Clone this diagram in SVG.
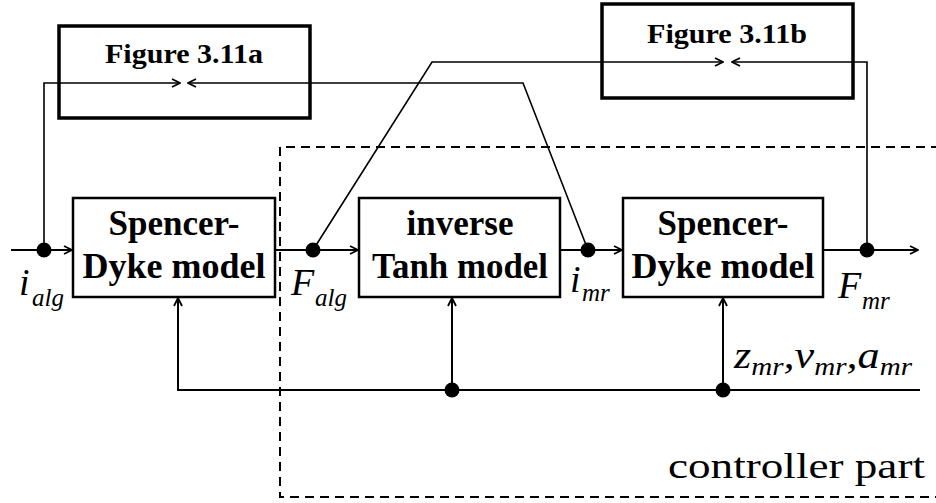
<svg xmlns="http://www.w3.org/2000/svg" width="936" height="503" viewBox="0 0 936 503">
<defs>
<marker id="arr" viewBox="0 0 10 10" refX="9" refY="5" markerWidth="10" markerHeight="10" markerUnits="userSpaceOnUse" orient="auto">
<path d="M1,1 L9,5 L1,9" fill="none" stroke="#000" stroke-width="1.8"/>
</marker>
</defs>
<style>
text{font-family:'Liberation Serif','Times New Roman',serif}
.blk{fill:#fff;stroke:#000;stroke-width:2.5}
.fig{fill:none;stroke:#000;stroke-width:3.5}
.bt{font-weight:bold;font-size:35px;text-anchor:middle}
.ft{font-weight:bold;font-size:28px;text-anchor:middle}
.ln{fill:none;stroke:#000;stroke-width:2}
.lnt{fill:none;stroke:#000;stroke-width:1.6}
.lab{font-style:italic;font-size:38px}
.sub{font-style:italic;font-size:25px}
.dot{fill:#000}
</style>
<rect width="936" height="503" fill="#fff"/>
<g id="controller-part">
<path d="M940,147 H280 V497 H940" fill="none" stroke="#000" stroke-width="2" stroke-dasharray="9,6"/>
<text x="925" y="478" font-size="36" text-anchor="end" textLength="257" lengthAdjust="spacingAndGlyphs">controller part</text>
</g>
<g id="connectors">
<path class="ln" d="M11,250 H72" marker-end="url(#arr)"/>
<path class="ln" d="M275,250 H358" marker-end="url(#arr)"/>
<path class="ln" d="M560,250 H622" marker-end="url(#arr)"/>
<path class="ln" d="M823,250 H918" marker-end="url(#arr)"/>
<path class="lnt" d="M44,250 V83 H180" marker-end="url(#arr)"/>
<path class="lnt" d="M588,250 L523,83 H188" marker-end="url(#arr)"/>
<path class="lnt" d="M313,250 L432,62 H723" marker-end="url(#arr)"/>
<path class="lnt" d="M867,250 V62 H732" marker-end="url(#arr)"/>
<path class="ln" d="M920,390 H178 V298" marker-end="url(#arr)"/>
<path class="ln" d="M452,390 V298" marker-end="url(#arr)"/>
<path class="ln" d="M723,390 V298" marker-end="url(#arr)"/>
<circle class="dot" cx="44" cy="250" r="7.5"/>
<circle class="dot" cx="313" cy="250" r="7.5"/>
<circle class="dot" cx="588" cy="250" r="7.5"/>
<circle class="dot" cx="867" cy="250" r="7.5"/>
<circle class="dot" cx="452" cy="390" r="7.5"/>
<circle class="dot" cx="723" cy="390" r="7.5"/>
</g>
<g id="fig311a">
<rect class="fig" x="59" y="26" width="251" height="92"/>
<text class="ft" x="184" y="63" textLength="158" lengthAdjust="spacingAndGlyphs">Figure 3.11a</text>
</g>
<g id="fig311b">
<rect class="fig" x="602" y="4" width="251" height="94"/>
<text class="ft" x="727" y="43" textLength="160" lengthAdjust="spacingAndGlyphs">Figure 3.11b</text>
</g>
<g id="sd1">
<rect class="blk" x="73" y="198" width="202" height="99"/>
<text class="bt" x="174" y="235">Spencer-</text>
<text class="bt" x="174" y="278" textLength="183" lengthAdjust="spacingAndGlyphs">Dyke model</text>
</g>
<g id="tanh">
<rect class="blk" x="359" y="198" width="201" height="99"/>
<text class="bt" x="460" y="235">inverse</text>
<text class="bt" x="460" y="278" textLength="176" lengthAdjust="spacingAndGlyphs">Tanh model</text>
</g>
<g id="sd2">
<rect class="blk" x="623" y="198" width="200" height="99"/>
<text class="bt" x="723" y="235">Spencer-</text>
<text class="bt" x="723" y="278" textLength="183" lengthAdjust="spacingAndGlyphs">Dyke model</text>
</g>
<g id="labels">
<text class="lab" x="19" y="295">i</text><text class="sub" x="32" y="306">alg</text>
<text class="lab" x="291" y="295">F</text><text class="sub" x="315" y="306">alg</text>
<text class="lab" x="570" y="292">i</text><text class="sub" x="582" y="301">mr</text>
<text class="lab" x="838" y="298">F</text><text class="sub" x="862" y="309">mr</text>
<text x="734" y="368" textLength="178" lengthAdjust="spacingAndGlyphs"><tspan class="lab">z</tspan><tspan class="sub" dy="7">mr</tspan><tspan class="lab" font-style="normal" dy="-7">,</tspan><tspan class="lab">v</tspan><tspan class="sub" dy="7">mr</tspan><tspan class="lab" font-style="normal" dy="-7">,</tspan><tspan class="lab">a</tspan><tspan class="sub" dy="7">mr</tspan></text>
</g>
</svg>
